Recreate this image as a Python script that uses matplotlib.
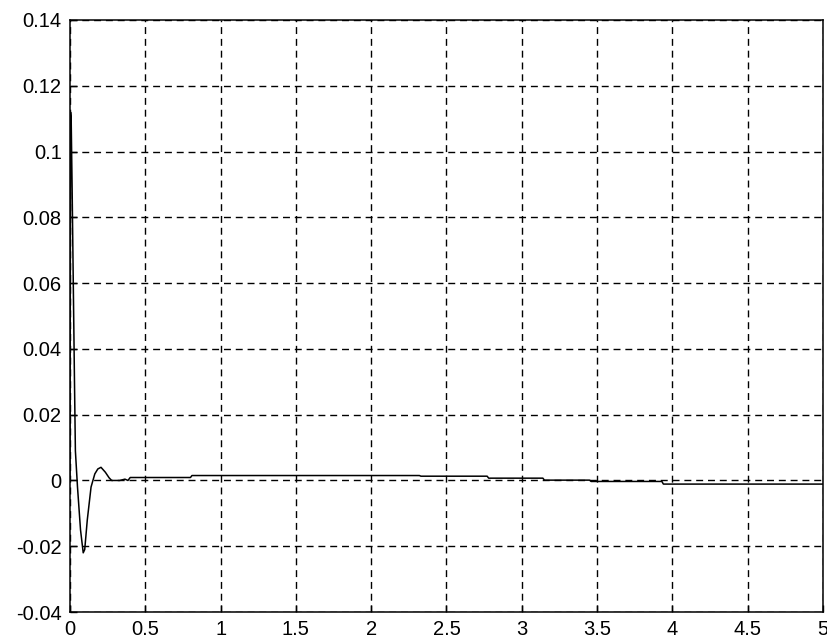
import matplotlib
matplotlib.use("Agg")
import matplotlib.pyplot as plt

# response (time in s, value)
t = [0.0, 0.004, 0.008, 0.014, 0.022, 0.030, 0.036, 0.050, 0.070, 0.088,
     0.098, 0.115, 0.140, 0.165, 0.185, 0.206, 0.235, 0.260, 0.277, 0.330,
     0.365, 0.385, 0.400, 0.800, 0.810, 2.320, 2.330, 2.770, 2.780, 3.140,
     3.150, 3.450, 3.460, 3.930, 3.940, 5.0]
y = [0.0, 0.112, 0.110, 0.090, 0.060, 0.030, 0.009, -0.002, -0.015, -0.022,
     -0.021, -0.012, -0.002, 0.002, 0.0035, 0.004, 0.0025, 0.0008, 0.0, 0.0,
     0.0004, 0.0, 0.0009, 0.0009, 0.0015, 0.0015, 0.0013, 0.0013, 0.0007, 0.0007,
     0.0001, 0.0001, -0.0003, -0.0003, -0.0011, -0.0011]

xticks = [0, 0.5, 1, 1.5, 2, 2.5, 3, 3.5, 4, 4.5, 5]
xlabels = ["0", "0.5", "1", "1.5", "2", "2.5", "3", "3.5", "4", "4.5", "5"]
yticks = [-0.04, -0.02, 0, 0.02, 0.04, 0.06, 0.08, 0.1, 0.12, 0.14]
ylabels = ["-0.04", "-0.02", "0", "0.02", "0.04", "0.06", "0.08", "0.1", "0.12", "0.14"]

plt.rcParams['font.family'] = ['Liberation Sans', 'DejaVu Sans']

fig = plt.figure(figsize=(8.28, 6.41), dpi=100)
ax = fig.add_axes([0.0845, 0.0452, 0.9095, 0.9236])

ax.plot(t, y, color='black', lw=1.1)

ax.set_xlim(0, 5)
ax.set_ylim(-0.04, 0.14)
ax.set_xticks(xticks)
ax.set_xticklabels(xlabels)
ax.set_yticks(yticks)
ax.set_yticklabels(ylabels)
ax.tick_params(direction='in', length=5, width=1, labelsize=14.5)
ax.tick_params(axis='x', pad=6)
ax.tick_params(axis='y', pad=6)
ax.grid(True, color='black', linestyle=(0, (5, 3.5)), lw=1.0)
for s in ax.spines.values():
    s.set_linewidth(1.1)

fig.savefig("out.png", dpi=100)
